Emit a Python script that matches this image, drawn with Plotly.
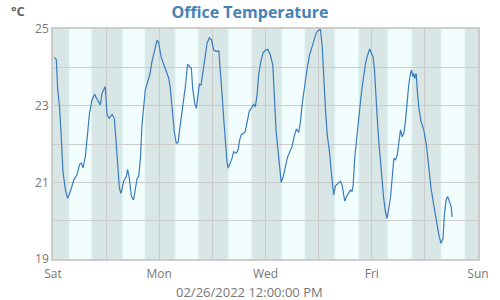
import plotly.graph_objects as go
import pandas as pd

START = "2022-02-26 00:00"
END = "2022-03-06 00:00"

# hours since Sat 2022-02-26 00:00
hours = [0.6, 1.5, 2.1, 3.0, 3.6, 4.5, 5.6, 6.6, 7.8, 9.6, 10.8, 12.0, 12.8, 13.6, 14.6, 15.6, 16.5, 17.6, 18.8, 19.9,
         21.4, 22.1, 22.9, 23.6, 24.4, 25.4, 26.7, 27.7, 28.5, 29.4, 30.0, 30.7, 31.9, 33.1, 33.7, 34.5, 35.4, 36.4,
         37.2, 38.0, 38.7, 39.5, 40.2, 41.0, 41.7, 42.8, 43.7, 44.7, 45.8, 47.0, 47.7, 48.8, 50.0, 51.2, 52.3, 53.0,
         53.8, 54.8, 55.7, 56.5, 57.5, 58.6, 59.8, 60.8, 62.0, 62.5, 63.1, 64.0, 64.8, 65.5, 66.1, 66.9, 67.8, 68.5,
         69.6, 70.6, 71.6, 72.6, 73.8, 74.9, 75.6, 76.4, 77.1, 77.9, 78.6, 79.1, 80.1, 80.9, 81.6, 82.7, 83.6, 84.3,
         85.1, 86.2, 86.9, 87.7, 88.7, 89.6, 90.7, 91.4, 92.2, 92.9, 94.0, 94.9, 96.0, 97.0, 98.2, 99.3, 100.0, 100.8,
         101.7, 102.4, 103.1, 104.0, 105.0, 106.0, 107.3, 108.0, 109.1, 110.0, 111.0, 111.8, 112.6, 113.6, 114.8,
         115.9, 117.1, 118.1, 119.0, 120.0, 120.8, 121.6, 122.3, 123.1, 123.9, 124.9, 125.7, 126.4, 126.8, 127.6,
         128.6, 129.9, 130.6, 131.3, 131.8, 132.6, 133.6, 134.4, 135.1, 135.6, 136.3, 137.1, 138.1, 138.9, 139.7,
         140.4, 141.2, 141.9, 142.7, 143.1, 143.9, 144.6, 145.2, 145.7, 146.4, 147.2, 147.9, 148.7, 149.4, 150.2,
         150.9, 151.7, 152.5, 153.2, 154.0, 154.7, 155.5, 156.2, 157.0, 157.7, 158.5, 159.2, 160.0, 160.7, 161.5,
         162.0, 162.5, 163.0, 163.4, 164.1, 164.5, 165.3, 166.3, 167.5, 168.7, 169.8, 170.8, 172.0, 173.2, 174.3,
         175.3, 176.2, 176.8, 177.6, 178.3, 179.2, 179.9, 180.3]
temps = [24.26, 24.2, 23.45, 22.93, 22.32, 21.28, 20.8, 20.58, 20.76, 21.09, 21.19, 21.47, 21.5, 21.38, 21.67, 22.23,
         22.8, 23.15, 23.3, 23.17, 23.02, 23.32, 23.43, 23.5, 22.76, 22.67, 22.77, 22.67, 22.06, 21.28, 20.84, 20.71,
         21.02, 21.15, 21.34, 21.1, 20.64, 20.54, 20.84, 21.1, 21.15, 21.63, 22.5, 23.1, 23.41, 23.63, 23.8, 24.15,
         24.45, 24.71, 24.65, 24.28, 24.08, 23.9, 23.71, 23.45, 22.93, 22.32, 22.02, 22.04, 22.5, 22.93, 23.5, 24.08,
         24.02, 23.97, 23.45, 23.06, 22.93, 23.36, 23.56, 23.54, 23.93, 24.24, 24.63, 24.77, 24.71, 24.45, 24.41,
         24.43, 23.97, 23.28, 22.67, 21.97, 21.54, 21.37, 21.52, 21.63, 21.8, 21.76, 21.84, 22.1, 22.25, 22.28, 22.34,
         22.58, 22.86, 22.93, 23.04, 22.97, 23.28, 23.8, 24.19, 24.38, 24.45, 24.47, 24.32, 24.06, 23.36, 22.32, 21.8,
         21.37, 21.0, 21.15, 21.41, 21.67, 21.84, 21.93, 22.23, 22.39, 22.3, 22.58, 23.06, 23.54, 23.97, 24.32, 24.54,
         24.76, 24.91, 24.97, 25.0, 24.55, 23.71, 22.9, 22.23, 21.8, 21.28, 20.84, 20.67, 20.91, 20.97, 21.03, 20.93,
         20.67, 20.51, 20.63, 20.71, 20.8, 20.76, 20.93, 21.63, 22.15, 22.58, 23.1, 23.5, 23.8, 24.1, 24.28, 24.41,
         24.48, 24.36, 24.28, 23.97, 23.36, 22.76, 22.06, 21.54, 21.1, 20.58, 20.23, 20.06, 20.32, 20.63, 21.1, 21.63,
         21.58, 21.71, 22.02, 22.37, 22.19, 22.28, 22.58, 23.1, 23.54, 23.84, 23.93, 23.76, 23.84, 23.71, 23.84,
         23.45, 22.93, 22.58, 22.37, 21.97, 21.37, 20.84, 20.41, 19.97, 19.63, 19.41, 19.54, 20.15, 20.54, 20.63,
         20.5, 20.36, 20.1]

# daylight (hours of day) for each of the 8 days
days = pd.date_range(START, periods=8, freq="D")
sunrise_h = [7.05, 7.15, 7.0, 7.05, 7.1, 7.1, 7.0, 7.15]
sunset_h = [17.6, 17.7, 17.85, 17.95, 18.0, 18.3, 18.3, 18.25]

tick_vals = ["2022-02-26", "2022-02-28", "2022-03-02", "2022-03-04", "2022-03-06"]
tick_text = ["Sat", "Mon", "Wed", "Fri", "Sun"]
y_ticks = [19, 21, 23, 25]

title_text = "Office Temperature"
unit_text = "°C"
stamp_text = "02/26/2022 12:00:00 PM"

t0 = pd.Timestamp(START)
xs = [t0 + pd.Timedelta(hours=h) for h in hours]

NIGHT = "#d8e6e6"
DAY = "#f2fefe"
TWI = "#e2f5f5"

shapes = [dict(type="rect", xref="x", yref="paper", x0=START, x1=END, y0=0, y1=1,
               fillcolor=NIGHT, line_width=0, layer="below")]
for d, sr, ss in zip(days, sunrise_h, sunset_h):
    a = d + pd.Timedelta(hours=sr)
    b = d + pd.Timedelta(hours=ss)
    shapes.append(dict(type="rect", xref="x", yref="paper", x0=a, x1=b, y0=0, y1=1,
                       fillcolor=TWI, line_width=0, layer="below"))
    shapes.append(dict(type="rect", xref="x", yref="paper", x0=a + pd.Timedelta(minutes=30),
                       x1=b - pd.Timedelta(minutes=30), y0=0, y1=1,
                       fillcolor=DAY, line_width=0, layer="below"))

fig = go.Figure()
fig.add_trace(go.Scatter(x=xs, y=temps, mode="lines",
                         line=dict(color="#3b7bbd", width=1.2), hoverinfo="skip"))

fig.update_layout(
    width=500, height=300,
    margin=dict(l=53, r=22, t=29, b=41),
    paper_bgcolor="white", plot_bgcolor="white",
    font=dict(family="Open Sans", color="#777777", size=12),
    showlegend=False,
    shapes=shapes,
    title=dict(text="<b>%s</b>" % title_text, x=0.5, xref="container", xanchor="center",
               y=0.96, yref="container", yanchor="middle",
               font=dict(family="Open Sans", size=16, color="#4682b4")),
    annotations=[
        dict(text="<b>%s</b>" % unit_text, xref="paper", yref="paper",
             x=(9 - 53) / 425, y=(259 - 11) / 230, xanchor="left", yanchor="middle",
             showarrow=False, font=dict(family="Open Sans", size=13, color="#666666")),
        dict(text=stamp_text, xref="paper", yref="paper",
             x=(249 - 53) / 425, y=(259 - 292) / 230, xanchor="center", yanchor="middle",
             showarrow=False, font=dict(family="Open Sans", size=13, color="#777777")),
    ],
)
fig.update_xaxes(range=[START, END], tickmode="array", tickvals=tick_vals, ticktext=tick_text,
                 showgrid=True, gridcolor="#cccccc", gridwidth=1,
                 minor=dict(dtick=86400000, showgrid=True, gridcolor="#cccccc", tick0=START),
                 showline=True, linecolor="#cccccc", mirror=True, linewidth=1.5,
                 ticks="", ticklen=0, ticklabelstandoff=3,
                 tickfont=dict(color="#777777", size=12))
fig.update_yaxes(range=[19, 25], tickmode="array", tickvals=y_ticks,
                 minor=dict(dtick=1, showgrid=True, gridcolor="#cccccc"),
                 showgrid=True, gridcolor="#cccccc", gridwidth=1,
                 showline=True, linecolor="#cccccc", mirror=True, linewidth=1.5,
                 ticks="", tickfont=dict(color="#777777", size=12), zeroline=False)

fig.write_html("out.html")
